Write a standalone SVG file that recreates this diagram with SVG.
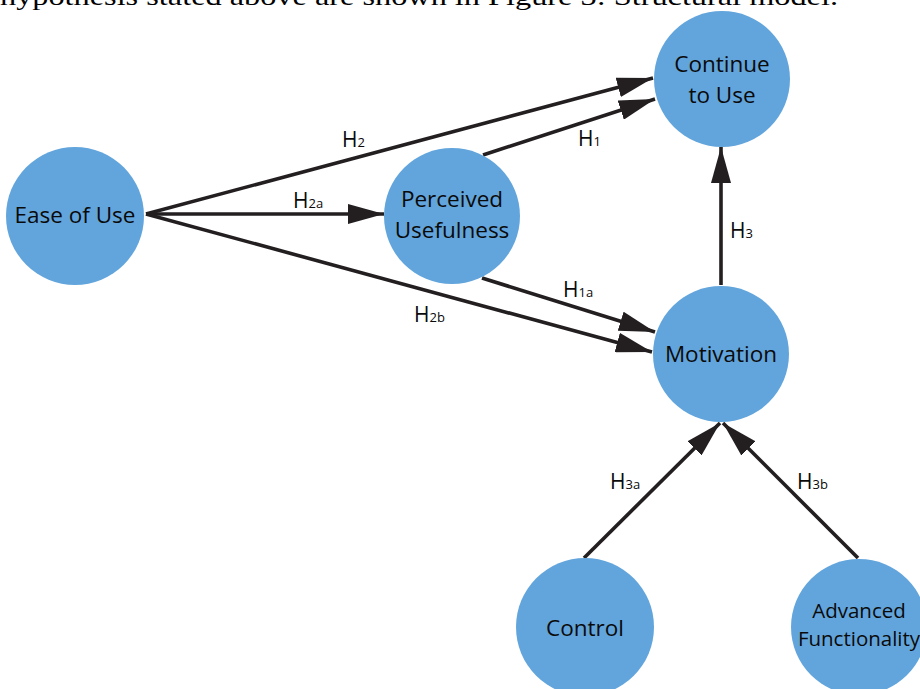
<svg xmlns="http://www.w3.org/2000/svg" width="920" height="689" viewBox="0 0 920 689">
  <defs>
    <marker id="arrow" viewBox="0 0 36 20" refX="36" refY="10" markerWidth="36" markerHeight="20" markerUnits="userSpaceOnUse" orient="auto">
      <path d="M0,0 L36,10 L0,20 Z" fill="#231f20"/>
    </marker>
    <style>
      .node { fill: #62a5dc; }
      .label { font-family: "Open Sans", "Noto Sans", sans-serif; font-size: 22.5px; fill: #0a0a0a; text-anchor: middle; }
      .small { font-size: 20.5px; }
      .edge { stroke: #231f20; stroke-width: 3.6; fill: none; marker-end: url(#arrow); }
      .h { font-family: "Open Sans", "Noto Sans", sans-serif; font-size: 21px; fill: #0a0a0a; }
      .sub { font-size: 13px; }
      .caption { font-family: "Liberation Serif", "Times New Roman", serif; font-size: 25px; fill: #000; }
    </style>
  </defs>

  <rect width="920" height="689" fill="#ffffff"/>

  <!-- running text of the page, clipped by the top edge -->
  <text class="caption" x="0" y="5" textLength="838" lengthAdjust="spacingAndGlyphs">hypothesis stated above are shown in Figure 3: Structural model.</text>

  <!-- connectors -->
  <g id="connectors">
    <line class="edge" x1="146" y1="214" x2="653" y2="78"/>
    <line class="edge" x1="483" y1="155" x2="655" y2="99"/>
    <line class="edge" x1="146" y1="214" x2="384" y2="214"/>
    <line class="edge" x1="146" y1="214" x2="652" y2="352"/>
    <line class="edge" x1="482" y1="278" x2="655" y2="332"/>
    <line class="edge" x1="721" y1="285" x2="721" y2="147"/>
    <line class="edge" x1="584" y1="558" x2="720" y2="423"/>
    <line class="edge" x1="858" y1="558" x2="723" y2="423"/>

    <text class="h" x="342" y="147">H<tspan class="sub">2</tspan></text>
    <text class="h" x="578" y="146">H<tspan class="sub">1</tspan></text>
    <text class="h" x="293" y="208">H<tspan class="sub">2a</tspan></text>
    <text class="h" x="414" y="322">H<tspan class="sub">2b</tspan></text>
    <text class="h" x="563" y="297">H<tspan class="sub">1a</tspan></text>
    <text class="h" x="730" y="238">H<tspan class="sub">3</tspan></text>
    <text class="h" x="610" y="489">H<tspan class="sub">3a</tspan></text>
    <text class="h" x="797" y="489">H<tspan class="sub">3b</tspan></text>
  </g>

  <g id="ease-of-use">
    <circle class="node" cx="75" cy="216" r="69"/>
    <text class="label" x="75" y="223">Ease of Use</text>
  </g>

  <g id="perceived-usefulness">
    <circle class="node" cx="452" cy="216" r="68"/>
    <text class="label" x="452" y="207">Perceived</text>
    <text class="label" x="452" y="238">Usefulness</text>
  </g>

  <g id="continue-to-use">
    <circle class="node" cx="722" cy="79" r="68"/>
    <text class="label" x="722" y="72">Continue</text>
    <text class="label" x="722" y="103">to Use</text>
  </g>

  <g id="motivation">
    <circle class="node" cx="721" cy="354" r="68"/>
    <text class="label" x="721" y="362">Motivation</text>
  </g>

  <g id="control">
    <circle class="node" cx="585" cy="627" r="69"/>
    <text class="label" x="585" y="636">Control</text>
  </g>

  <g id="advanced-functionality">
    <circle class="node" cx="859" cy="627" r="68"/>
    <text class="label small" x="859" y="618">Advanced</text>
    <text class="label small" x="859" y="646">Functionality</text>
  </g>
</svg>
